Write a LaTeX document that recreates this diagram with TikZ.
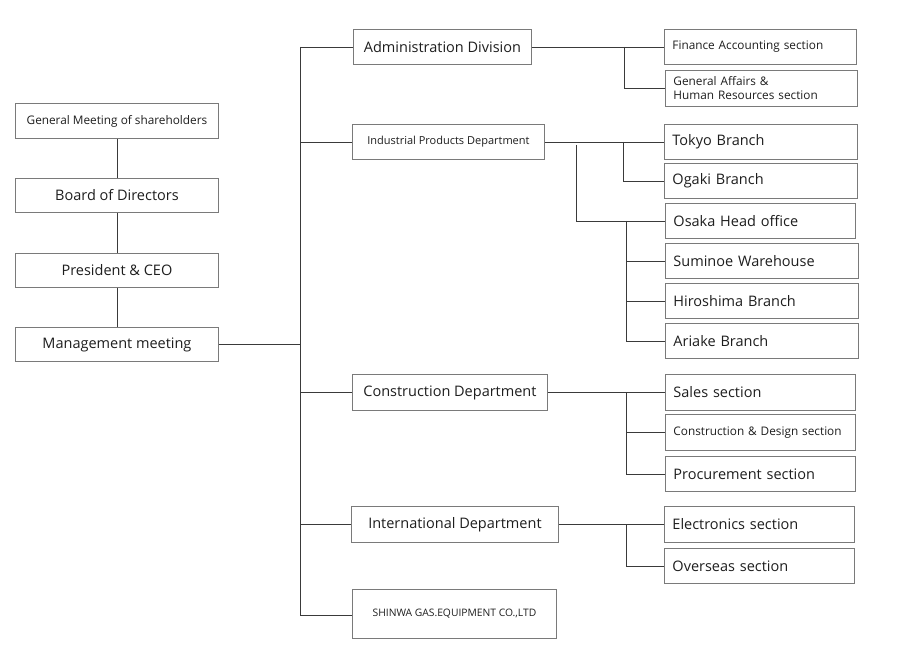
\documentclass[tikz,border=0pt]{standalone}
\usepackage{fontspec}
\setmainfont{Open Sans}
\definecolor{boxgray}{HTML}{7A7A7A}
\definecolor{linegray}{HTML}{3A3A3A}
\definecolor{txt}{HTML}{1E1E1E}
\newcommand{\bigf}{\fontsize{14.5}{17}\selectfont}
\newcommand{\smallf}{\fontsize{11.8}{14}\selectfont}
\newcommand{\indf}{\fontsize{11}{14}\selectfont}
\newcommand{\capsf}{\fontsize{10.3}{14}\selectfont}
\begin{document}
\begin{tikzpicture}[x=1pt,y=-1pt,
  base/.style={draw=boxgray, line width=0.9pt, rectangle, anchor=north west, text=txt, inner ysep=0pt},
  cbox/.style={base, inner xsep=0pt, align=center},
  lbox/.style={base, inner xsep=8pt, align=left},
  conn/.style={draw=linegray, line width=0.9pt}]
\useasboundingbox[fill=white] (0,0) rectangle (910,670);
% left column
\node[cbox, minimum width=203pt, minimum height=35pt, font=\smallf] (gm) at (15,103) {General Meeting of shareholders};
\node[cbox, minimum width=203pt, minimum height=34pt, font=\bigf] (bod) at (15,178) {Board of Directors};
\node[cbox, minimum width=203pt, minimum height=34pt, font=\bigf] (pres) at (15,253) {President \& CEO};
\node[cbox, minimum width=203pt, minimum height=34pt, font=\bigf] (mgmt) at (15,327) {Management meeting};
% middle column
\node[cbox, minimum width=178pt, minimum height=35pt, font=\bigf] (adm) at (353,29) {Administration Division};
\node[cbox, minimum width=192pt, minimum height=35pt, font=\indf] (ind) at (352,124) {Industrial Products Department};
\node[cbox, minimum width=195pt, minimum height=36pt, font=\bigf] (con) at (352,374) {Construction Department};
\node[cbox, minimum width=207pt, minimum height=36pt, font=\bigf] (intl) at (351,506) {International Department};
\node[cbox, minimum width=204pt, minimum height=49pt, font=\capsf] (shinwa) at (352,589) {SHINWA GAS.EQUIPMENT CO.,LTD};
% right column
\node[lbox, text width=176pt, minimum height=35pt, font=\smallf] (fin) at (664,29) {Finance Accounting section};
\node[lbox, text width=176pt, minimum height=36pt, font=\smallf] (ga) at (665,70) {General Affairs \&\\Human Resources section};
\node[lbox, text width=177pt, minimum height=35pt, font=\bigf] (tokyo) at (664,124) {Tokyo Branch};
\node[lbox, text width=177pt, minimum height=35pt, font=\bigf] (ogaki) at (664,163) {Ogaki Branch};
\node[lbox, text width=174pt, minimum height=35pt, font=\bigf] (osaka) at (665,203) {Osaka Head office};
\node[lbox, text width=177pt, minimum height=35pt, font=\bigf] (sumi) at (665,243) {Suminoe Warehouse};
\node[lbox, text width=177pt, minimum height=35pt, font=\bigf] (hiro) at (665,283) {Hiroshima Branch};
\node[lbox, text width=177pt, minimum height=35pt, font=\bigf] (ariake) at (665,323) {Ariake Branch};
\node[lbox, text width=174pt, minimum height=36pt, font=\bigf] (sales) at (665,374) {Sales section};
\node[lbox, text width=174pt, minimum height=36pt, font=\smallf] (cds) at (665,414) {Construction \& Design section};
\node[lbox, text width=174pt, minimum height=35pt, font=\bigf] (proc) at (665,456) {Procurement section};
\node[lbox, text width=174pt, minimum height=36pt, font=\bigf] (elec) at (664,506) {Electronics section};
\node[lbox, text width=174pt, minimum height=35pt, font=\bigf] (over) at (664,548) {Overseas section};
% bus coordinates
\coordinate (trunk) at (300,0);
\coordinate (b1) at (624,0);
\coordinate (b2) at (623,0);
\coordinate (b3) at (576,0);
\coordinate (b4) at (626,0);
% left chain
\draw[conn] (gm.south) -- (bod.north);
\draw[conn] (bod.south) -- (pres.north);
\draw[conn] (pres.south) -- (mgmt.north);
\draw[conn] (mgmt.east) -- (mgmt.east -| trunk);
% trunk
\draw[conn] (adm.west -| trunk) -- ([yshift=-1.5pt]shinwa.west -| trunk);
\draw[conn] (adm.west -| trunk) -- (adm.west);
\draw[conn] (ind.west -| trunk) -- (ind.west);
\draw[conn] (con.west -| trunk) -- (con.west);
\draw[conn] (intl.west -| trunk) -- (intl.west);
\draw[conn] ([yshift=-1.5pt]shinwa.west -| trunk) -- ([yshift=-1.5pt]shinwa.west);
% administration
\draw[conn] (adm.east) -- (fin.west);
\draw[conn] (fin.west -| b1) |- (ga.west);
% industrial
\draw[conn] (ind.east) -- (tokyo.west);
\draw[conn] (tokyo.west -| b2) |- (ogaki.west);
\draw[conn] ([yshift=-3pt]ind.east -| b3) |- (osaka.west);
\draw[conn] (osaka.west -| b4) |- (ariake.west);
\draw[conn] (sumi.west -| b4) -- (sumi.west);
\draw[conn] (hiro.west -| b4) -- (hiro.west);
% construction
\draw[conn] (con.east) -- (sales.west);
\draw[conn] (sales.west -| b4) |- (proc.west);
\draw[conn] (cds.west -| b4) -- (cds.west);
% international
\draw[conn] (intl.east) -- (elec.west);
\draw[conn] (elec.west -| b4) |- (over.west);
\end{tikzpicture}
\end{document}
